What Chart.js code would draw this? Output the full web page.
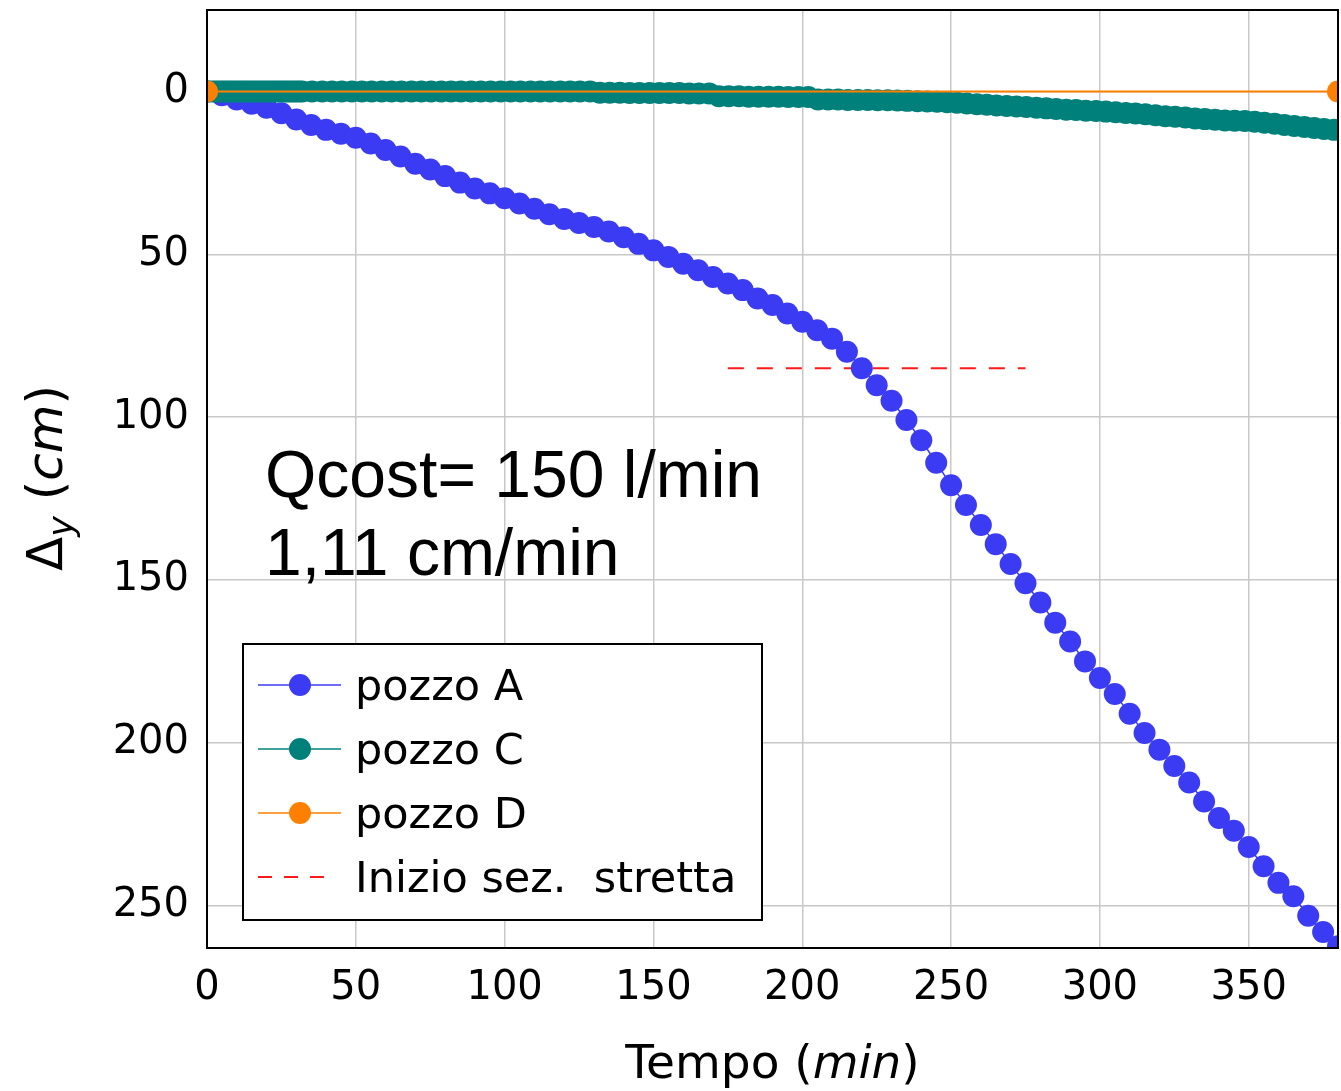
<!DOCTYPE html>
<html>
<head>
<meta charset="utf-8">
<script src="https://cdn.jsdelivr.net/npm/chart.js@4/dist/chart.umd.min.js"></script>
<style>
  body { margin: 0; background: #fff; }
  #wrap { width: 1341px; height: 1091px; }
</style>
</head>
<body>
<div id="wrap"><canvas id="abbassamento" width="1341" height="1091"></canvas></div>
<script>
// tempi (min) e abbassamenti (cm)
const tempoA = [0, 5, 10, 15, 20, 25, 30, 35, 40, 45, 50, 55, 60, 65, 70, 75, 80, 85, 90, 95,
  100, 105, 110, 115, 120, 125, 130, 135, 140, 145, 150, 155, 160, 165, 170, 175, 180, 185, 190, 195,
  200, 205, 210, 215, 220, 225, 230, 235, 240, 245, 250, 255, 260, 265, 270, 275, 280, 285, 290, 295,
  300, 305, 310, 315, 320, 325, 330, 335, 340, 345, 350, 355, 360, 365, 370, 375, 380];
const pozzoA = [0, 1.2, 2.5, 3.8, 5.0, 6.7, 8.6, 10.3, 11.8, 13.0, 14.2, 16.0, 18.0, 20.0, 22.2, 24.0, 26.0, 28.0, 29.8, 31.3,
  32.8, 34.4, 36.0, 37.7, 39.2, 40.4, 41.6, 43.0, 44.8, 46.8, 48.8, 50.8, 52.9, 54.9, 57.0, 59.0, 61.0, 63.6, 65.6, 68.2,
  70.7, 73.3, 75.9, 79.9, 85.0, 90.2, 95.0, 100.9, 107.1, 114.0, 120.9, 127.0, 133.1, 139.0, 145.1, 151.0, 156.9, 163.1, 168.9, 175.0,
  180.1, 185.0, 191.1, 197.0, 202.1, 207.1, 212.2, 218.0, 223.1, 227.0, 232.0, 237.9, 243.0, 247.1, 253.1, 258.1, 262.5];

const tempoC = [0, 1, 2, 3, 4, 5, 6, 7, 8, 9, 10, 11, 12, 13, 14, 15, 16, 17, 18, 19, 20, 21, 22, 23, 24, 25, 26, 27, 28, 29, 30, 31, 32,
  35.3, 38.7, 42, 45.3, 48.7, 52, 55.3, 58.7, 62, 65.3, 68.7,
  72, 75.3, 78.7, 82, 85.3, 88.7, 92, 95.3, 98.7,
  102, 105.3, 108.7, 112, 115.3, 118.7, 122, 125.3, 128.7,
  132, 135.3, 138.7, 142, 145.3, 148.7, 152, 155.3, 158.7, 162, 165.3, 168.7,
  172, 175.3, 178.7, 182, 185.3, 188.7, 192, 195.3, 198.7, 202,
  205.3, 208.7, 212, 215.3, 218.7, 222, 225.3, 228.7,
  232, 235.3, 238.7, 242, 245.3, 248.7, 252, 255.3, 258.7, 262,
  265.3, 268.7, 272, 275.3, 278.7, 282, 285.3, 288.7, 292, 295.3, 298.7,
  302, 305.3, 308.7, 312, 315.3, 318.7, 322, 325.3, 328.7, 332,
  335.3, 338.7, 342, 345.3, 348.7, 352, 355.3, 358.7, 362, 365.3, 368.7, 372, 375.3, 378.7];
const pozzoC = [0, 0, 0, 0, 0, 0, 0, 0, 0, 0, 0, 0, 0, 0, 0, 0, 0, 0, 0, 0, 0, 0, 0, 0, 0, 0, 0, 0, 0, 0, 0, 0, 0,
  0, 0, 0, 0, 0, 0, 0, 0, 0, 0, 0,
  0, 0, 0, 0, 0, 0, 0, 0, 0,
  0, 0, 0, 0, 0, 0, 0, 0, 0,
  0.4, 0.4, 0.4, 0.5, 0.5, 0.5, 0.5, 0.5, 0.5, 0.6, 0.6, 0.6,
  1.5, 1.5, 1.5, 1.6, 1.6, 1.6, 1.6, 1.7, 1.7, 1.7,
  2.5, 2.5, 2.5, 2.6, 2.6, 2.6, 2.7, 2.7,
  2.8, 2.9, 3.0, 3.1, 3.2, 3.3, 3.5, 3.7, 3.9, 4.1,
  4.3, 4.5, 4.6, 4.8, 5.0, 5.2, 5.4, 5.6, 5.7, 5.9, 6.0,
  6.2, 6.4, 6.6, 6.8, 7.0, 7.3, 7.6, 7.8, 8.0, 8.3,
  8.5, 8.7, 8.9, 9.0, 9.1, 9.3, 9.6, 9.9, 10.3, 10.6, 10.9, 11.2, 11.5, 11.8];

const tempoD = [0, 380];
const pozzoD = [0, 0];

const tempoSezione = [175, 275];
const inizioSezione = [85, 85];

const xTicks = [0, 50, 100, 150, 200, 250, 300, 350];
const yTicks = [0, 50, 100, 150, 200, 250];

const BLUE = '#3b3bf3';
const TEAL = '#00807a';
const ORANGE = '#ff8000';
const RED = '#ff1a1a';
const TICK_FONT = '"DejaVu Sans", sans-serif';

function punti(xs, ys) {
  return xs.map((x, i) => ({ x: x, y: ys[i] }));
}

const legendItems = [
  { label: 'pozzo A', color: BLUE, marker: true },
  { label: 'pozzo C', color: TEAL, marker: true },
  { label: 'pozzo D', color: ORANGE, marker: true },
  { label: 'Inizio sez.  stretta', color: RED, marker: false }
];

// frame, titles, legend box and the Q annotation
const extras = {
  id: 'extras',
  afterDraw(chart) {
    const ctx = chart.ctx;
    const a = chart.chartArea;
    ctx.save();

    // axis frame
    ctx.strokeStyle = '#000';
    ctx.lineWidth = 2;
    ctx.strokeRect(a.left, a.top, a.right - a.left, a.bottom - a.top);

    // annotation
    ctx.fillStyle = '#000';
    ctx.font = '66px "Liberation Sans", Arial, sans-serif';
    ctx.textAlign = 'left';
    ctx.textBaseline = 'alphabetic';
    ctx.fillText('Qcost= 150 l/min', a.left + 58, a.top + 487);
    ctx.fillText('1,11 cm/min', a.left + 58, a.top + 565);

    // legend
    const bx = a.left + 36, by = a.top + 634, bw = 519, bh = 276;
    ctx.fillStyle = '#fff';
    ctx.fillRect(bx, by, bw, bh);
    ctx.strokeStyle = '#000';
    ctx.lineWidth = 2;
    ctx.strokeRect(bx, by, bw, bh);
    ctx.font = '43px ' + TICK_FONT;
    legendItems.forEach((it, i) => {
      const ry = by + 41 + i * 64;
      ctx.strokeStyle = it.color;
      if (it.marker) {
        ctx.lineWidth = 1.5;
        ctx.setLineDash([]);
        ctx.beginPath();
        ctx.moveTo(bx + 15, ry);
        ctx.lineTo(bx + 98, ry);
        ctx.stroke();
        ctx.fillStyle = it.color;
        ctx.beginPath();
        ctx.arc(bx + 57, ry, 11, 0, Math.PI * 2);
        ctx.fill();
      } else {
        ctx.lineWidth = 2;
        ctx.setLineDash([14, 12]);
        ctx.beginPath();
        ctx.moveTo(bx + 15, ry);
        ctx.lineTo(bx + 92, ry);
        ctx.stroke();
        ctx.setLineDash([]);
      }
      ctx.fillStyle = '#000';
      ctx.fillText(it.label, bx + 112, ry + 15);
    });

    // x title: Tempo (min)
    const parts = [['Tempo (', ''], ['min', 'italic '], [')', '']];
    let total = 0;
    parts.forEach(p => { ctx.font = p[1] + '47px ' + TICK_FONT; total += ctx.measureText(p[0]).width; });
    let x = (a.left + a.right) / 2 - total / 2;
    parts.forEach(p => {
      ctx.font = p[1] + '47px ' + TICK_FONT;
      ctx.fillText(p[0], x, 1078);
      x += ctx.measureText(p[0]).width;
    });

    // y title: Δy (cm)
    ctx.translate(62, 478);
    ctx.rotate(-Math.PI / 2);
    const yparts = [['\u0394', '', 50, 0], ['y', 'italic ', 35, 11], [' (', '', 50, 0], ['cm', 'italic ', 50, 0], [')', '', 50, 0]];
    total = 0;
    yparts.forEach(p => { ctx.font = p[1] + p[2] + 'px ' + TICK_FONT; total += ctx.measureText(p[0]).width; });
    x = -total / 2;
    yparts.forEach(p => {
      ctx.font = p[1] + p[2] + 'px ' + TICK_FONT;
      ctx.fillText(p[0], x, p[3]);
      x += ctx.measureText(p[0]).width;
    });
    ctx.restore();
  }
};

const ctx = document.getElementById('abbassamento').getContext('2d');
const chart = new Chart(ctx, {
  type: 'scatter',
  data: {
    datasets: [
      {
        label: 'pozzo D',
        data: punti(tempoD, pozzoD),
        showLine: true,
        borderColor: ORANGE,
        backgroundColor: ORANGE,
        borderWidth: 2,
        pointRadius: 11,
        pointBorderWidth: 0,
        order: 0
      },
      {
        label: 'pozzo C',
        data: punti(tempoC, pozzoC),
        showLine: true,
        borderColor: TEAL,
        backgroundColor: TEAL,
        borderWidth: 1.5,
        pointRadius: 11,
        pointBorderWidth: 0,
        order: 1
      },
      {
        label: 'pozzo A',
        data: punti(tempoA, pozzoA),
        showLine: true,
        borderColor: BLUE,
        backgroundColor: BLUE,
        borderWidth: 1.5,
        pointRadius: 11,
        pointBorderWidth: 0,
        order: 2
      },
      {
        label: 'Inizio sez. stretta',
        data: punti(tempoSezione, inizioSezione),
        showLine: true,
        borderColor: RED,
        borderWidth: 2,
        borderDash: [16, 13],
        pointRadius: 0,
        order: 3
      }
    ]
  },
  options: {
    responsive: false,
    animation: false,
    events: [],
    layout: { autoPadding: false, padding: { top: 10, right: 3, left: 0, bottom: 0 } },
    plugins: {
      legend: { display: false },
      tooltip: { enabled: false }
    },
    scales: {
      x: {
        type: 'linear',
        min: 0,
        max: 380,
        afterBuildTicks: s => { s.ticks = xTicks.map(v => ({ value: v })); },
        afterFit: s => { s.height = 143; s.paddingLeft = 0; s.paddingRight = 0; },
        border: { display: false },
        grid: { color: '#c8c8c8', lineWidth: 1.5, drawTicks: false },
        ticks: {
          color: '#000',
          padding: 17,
          maxRotation: 0,
          font: { family: TICK_FONT, size: 40 }
        }
      },
      y: {
        type: 'linear',
        reverse: true,
        min: -25,
        max: 263,
        afterBuildTicks: s => { s.ticks = yTicks.map(v => ({ value: v })); },
        afterFit: s => { s.width = 207; s.paddingTop = 0; s.paddingBottom = 0; },
        border: { display: false },
        grid: { color: '#c8c8c8', lineWidth: 1.5, drawTicks: false },
        ticks: {
          color: '#000',
          padding: 18,
          font: { family: TICK_FONT, size: 40 }
        }
      }
    }
  },
  plugins: [extras]
});
</script>
</body>
</html>
